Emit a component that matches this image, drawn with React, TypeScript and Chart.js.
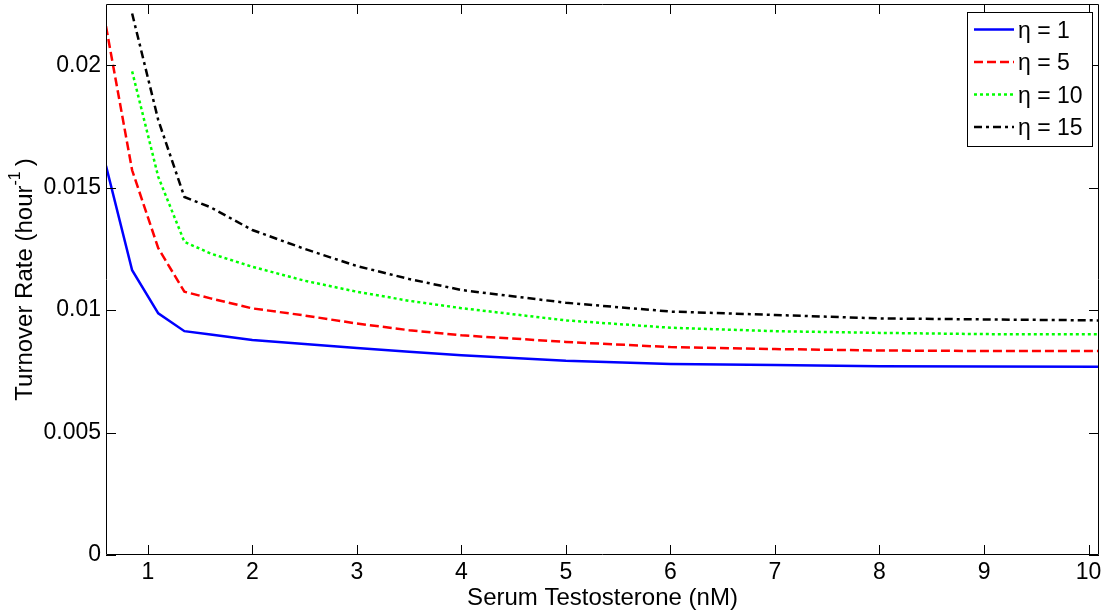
import { Chart, ChartConfiguration, Plugin, registerables } from "chart.js";
import { useEffect, useRef } from "react";

Chart.register(...registerables);
Chart.defaults.font.family = "'Liberation Sans', Arial, sans-serif";
Chart.defaults.color = "#000";

// serum testosterone (nM)
const xValues = [0.6, 0.85, 1.1, 1.35, 1.6, 2, 2.5, 3, 3.5, 4, 5, 6, 7, 8, 9, 10.1];

// turnover rate (hour^-1), one list per eta
const eta1 = [0.01589, 0.01163, 0.00987, 0.00914, 0.009, 0.00878, 0.00862, 0.00845, 0.0083, 0.00816, 0.00793, 0.0078, 0.00776, 0.00771, 0.0077, 0.00769];
const eta5 = [0.02159, 0.01571, 0.01253, 0.01075, 0.01048, 0.01007, 0.00978, 0.00945, 0.00918, 0.00897, 0.0087, 0.00849, 0.00841, 0.00835, 0.00833, 0.00833];
const eta10 = [null, 0.01975, 0.01544, 0.01279, 0.01231, 0.01177, 0.0112, 0.01075, 0.01038, 0.01008, 0.00958, 0.00928, 0.00914, 0.00907, 0.00902, 0.00901];
const eta15 = [null, 0.02211, 0.01776, 0.01462, 0.0142, 0.01327, 0.0125, 0.0118, 0.01127, 0.01082, 0.0103, 0.00994, 0.0098, 0.00966, 0.00962, 0.00958];

const seriesLabels = ["η = 1", "η = 5", "η = 10", "η = 15"];

const xTickValues = [1, 2, 3, 4, 5, 6, 7, 8, 9, 10];
const xTickLabels = ["1", "2", "3", "4", "5", "6", "7", "8", "9", "10"];
const yTickValues = [0, 0.005, 0.01, 0.015, 0.02];
const yTickLabels = ["0", "0.005", "0.01", "0.015", "0.02"];

const FONT = "'Liberation Sans', Arial, sans-serif";

// turn a list into {x,y} points, dropping the missing ones
function toPoints(ys: (number | null)[]) {
  const pts: { x: number; y: number }[] = [];
  ys.forEach((y, i) => {
    if (y !== null) pts.push({ x: xValues[i], y });
  });
  return pts;
}

// box around the axes, inward ticks on all sides, axis titles
const framePlugin: Plugin = {
  id: "frame",
  afterDraw(chart) {
    const { ctx, chartArea: a } = chart;
    const xs = chart.scales.x;
    const ys = chart.scales.y;
    const tl = 10;
    ctx.save();
    ctx.strokeStyle = "#000";
    ctx.lineWidth = 1;
    ctx.beginPath();
    ctx.rect(a.left + 0.5, a.top + 0.5, a.right - a.left - 1, a.bottom - a.top - 1);
    xTickValues.forEach((v) => {
      const px = Math.round(xs.getPixelForValue(v)) + 0.5;
      ctx.moveTo(px, a.bottom);
      ctx.lineTo(px, a.bottom - tl);
      ctx.moveTo(px, a.top);
      ctx.lineTo(px, a.top + tl);
    });
    yTickValues.forEach((v) => {
      const py = Math.round(ys.getPixelForValue(v)) + 0.5;
      ctx.moveTo(a.left, py);
      ctx.lineTo(a.left + tl, py);
      ctx.moveTo(a.right, py);
      ctx.lineTo(a.right - tl, py);
    });
    ctx.stroke();

    // x title
    ctx.fillStyle = "#000";
    ctx.font = `24px ${FONT}`;
    ctx.textAlign = "center";
    ctx.textBaseline = "alphabetic";
    ctx.fillText("Serum Testosterone (nM)", (a.left + a.right) / 2, 605);

    // y title with superscript
    const main = "Turnover Rate (hour";
    const sup = "-1";
    const end = ")";
    ctx.font = `24px ${FONT}`;
    const wMain = ctx.measureText(main).width;
    const wEnd = ctx.measureText(end).width;
    ctx.font = `16px ${FONT}`;
    const wSup = ctx.measureText(sup).width;
    const gap = 5;
    const total = wMain + wSup + gap + wEnd;
    ctx.translate(32, (a.top + a.bottom) / 2);
    ctx.rotate(-Math.PI / 2);
    ctx.textAlign = "left";
    let x0 = -total / 2;
    ctx.font = `24px ${FONT}`;
    ctx.fillText(main, x0, 0);
    x0 += wMain;
    ctx.font = `16px ${FONT}`;
    ctx.fillText(sup, x0, -12);
    x0 += wSup + gap;
    ctx.font = `24px ${FONT}`;
    ctx.fillText(end, x0, 0);
    ctx.restore();
  },
};

// boxed legend in the top right corner of the axes
const legendPlugin: Plugin = {
  id: "boxLegend",
  afterDraw(chart) {
    const { ctx } = chart;
    const left = 967;
    const top = 12;
    const w = 125;
    const h = 134;
    ctx.save();
    ctx.fillStyle = "#fff";
    ctx.fillRect(left, top, w, h);
    ctx.strokeStyle = "#000";
    ctx.lineWidth = 1;
    ctx.strokeRect(left + 0.5, top + 0.5, w, h);
    chart.data.datasets.forEach((ds: any, i) => {
      const y = 29.5 + i * 32.5;
      ctx.beginPath();
      ctx.strokeStyle = ds.borderColor;
      ctx.lineWidth = ds.borderWidth;
      ctx.setLineDash(ds.borderDash || []);
      ctx.moveTo(974, y);
      ctx.lineTo(1014, y);
      ctx.stroke();
      ctx.setLineDash([]);
      ctx.fillStyle = "#000";
      ctx.font = `23px ${FONT}`;
      ctx.textBaseline = "middle";
      ctx.textAlign = "left";
      ctx.fillText(ds.label, 1018, y + 2);
    });
    ctx.restore();
  },
};

export default function App() {
  const canvasRef = useRef<HTMLCanvasElement | null>(null);

  useEffect(() => {
    document.body.style.margin = "0";
    const ref = canvasRef.current;
    if (!ref) return;

    const config: ChartConfiguration = {
      type: "line",
      data: {
        datasets: [
          { label: seriesLabels[0], data: toPoints(eta1), borderColor: "#0000ff", borderWidth: 2.5 },
          { label: seriesLabels[1], data: toPoints(eta5), borderColor: "#ff0000", borderWidth: 2.5, borderDash: [9, 4] },
          { label: seriesLabels[2], data: toPoints(eta10), borderColor: "#00ff00", borderWidth: 2.5, borderDash: [3, 3] },
          { label: seriesLabels[3], data: toPoints(eta15), borderColor: "#000000", borderWidth: 2.5, borderDash: [8, 4, 3, 4] },
        ] as any,
      },
      options: {
        animation: false,
        responsive: false,
        maintainAspectRatio: false,
        elements: { point: { radius: 0 }, line: { tension: 0, fill: false } },
        layout: { padding: { top: 4, right: 11, left: 0, bottom: 0 } },
        plugins: { legend: { display: false }, tooltip: { enabled: false } },
        scales: {
          x: {
            type: "linear",
            min: 0.6,
            max: 10.1,
            grid: { display: false, drawTicks: false },
            border: { display: false },
            afterBuildTicks: (s: any) => {
              s.ticks = xTickValues.map((v) => ({ value: v }));
            },
            afterFit: (s: any) => {
              s.height = 58;
              s.paddingLeft = 0;
              s.paddingRight = 0;
            },
            ticks: {
              font: { size: 23 },
              padding: 4,
              maxRotation: 0,
              callback: (v: any) => xTickLabels[xTickValues.indexOf(Number(v))] ?? "",
            },
          },
          y: {
            type: "linear",
            min: 0,
            max: 0.0225,
            grid: { display: false, drawTicks: false },
            border: { display: false },
            afterBuildTicks: (s: any) => {
              s.ticks = yTickValues.map((v) => ({ value: v }));
            },
            afterFit: (s: any) => {
              s.width = 106;
              s.paddingTop = 0;
              s.paddingBottom = 0;
            },
            ticks: {
              font: { size: 23 },
              padding: 5,
              callback: (v: any) => yTickLabels[yTickValues.indexOf(Number(v))] ?? "",
            },
          },
        },
      },
      plugins: [framePlugin, legendPlugin],
    };

    const chart = new Chart(ref, config);
    return () => {
      chart.destroy();
    };
  }, []);

  return (
    <div style={{ width: 1110, height: 613, background: "#fff" }}>
      <canvas ref={canvasRef} width={1110} height={613} />
    </div>
  );
}
